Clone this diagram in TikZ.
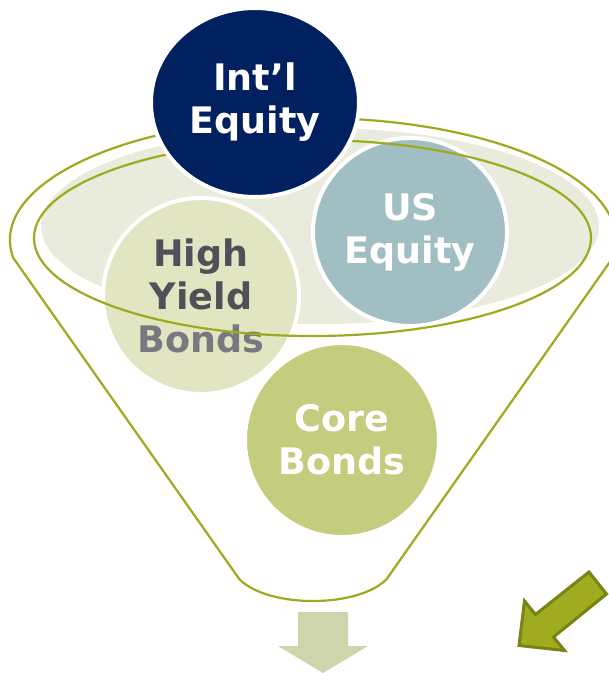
\documentclass[tikz,border=0pt]{standalone}
\usepackage{fontspec}
\setmainfont{DejaVu Sans}
\usetikzlibrary{shapes.geometric}

\definecolor{navy}{RGB}{0,32,96}
\definecolor{usblue}{RGB}{161,190,194}
\definecolor{hygreen}{RGB}{226,229,193}
\definecolor{coregreen}{RGB}{196,204,126}
\definecolor{rimfill}{RGB}{233,235,221}
\definecolor{rimline}{RGB}{158,170,30}
\definecolor{textgray}{RGB}{80,80,88}
\definecolor{bondsgray}{RGB}{120,120,128}
\definecolor{downfill}{RGB}{206,212,172}
\definecolor{arrowfill}{RGB}{160,172,31}
\definecolor{arrowline}{RGB}{122,130,20}

\tikzset{
  ball/.style={ellipse, draw=white, line width=4pt, inner sep=0pt, align=center,
    font=\fontsize{36.5}{43}\selectfont\bfseries},
  rim/.style={draw=rimline, line width=2.2pt},
}

\begin{document}
\begin{tikzpicture}[x=1pt, y=1pt]
              \useasboundingbox (0, 0) rectangle (609, -673);

              \fill [rimfill] (320, -226) ellipse [x radius = 279, y radius = 98];

              \node [ball, fill=hygreen, text=textgray, minimum width=196, minimum height=196] (hy) at (201, -296)
                {High\\Yield\\{\color{bondsgray}Bonds}};
              \node [ball, fill=usblue, text=white, minimum width=194, minimum height=188] (us) at (410, -232)
                {US\\Equity};
              \node [ball, fill=coregreen, text=white, minimum width=194, minimum height=194] (core) at (342, -440)
                {Core\\Bonds};

              \draw [rim] (312.5, -238) ellipse [x radius = 278.5, y radius = 98];

              \coordinate (rimL) at (13.3, -258);
              \coordinate (botR) at (386.6, -579.1);
              \draw [rim] (rimL) arc [start angle = 188.5, end angle = -8.5, x radius = 303, y radius = 122]
                -- (botR) arc [start angle = 337, end angle = 203, x radius = 80, y radius = 36] -- cycle;

              \node [ball, fill=navy, text=white, minimum width=208, minimum height=189] (intl) at (255, -102.5)
                {Int’l\\Equity};

              \fill [downfill] (298, -612) -- (348, -612) -- (348, -646) -- (368, -646)
                -- (323, -673) -- (278, -646) -- (298, -646) -- cycle;

              \filldraw [fill=arrowfill, draw=arrowline, line width=3pt] (519, -645.5) -- (524.5, -601)
                -- (535.5, -614.5) -- (589, -572) -- (606.5, -594) -- (553.5, -637) -- (564.5, -650.5) -- cycle;
            \end{tikzpicture}
\end{document}
